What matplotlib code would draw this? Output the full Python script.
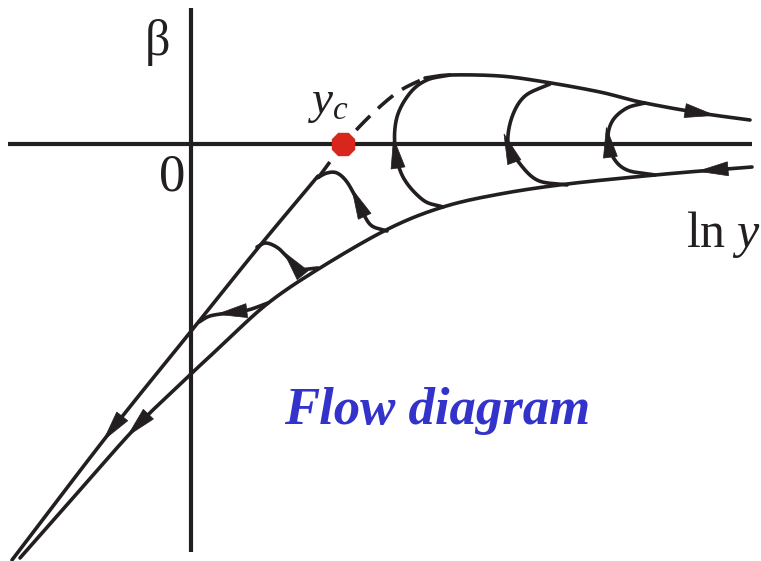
import numpy as np
import matplotlib.pyplot as plt
from matplotlib.patches import Polygon

plt.rcParams['mathtext.fontset'] = 'custom'
plt.rcParams['mathtext.rm'] = 'Liberation Serif'
plt.rcParams['mathtext.it'] = 'Liberation Serif:italic'

INK = '#231f20'

# flow lines, points ordered along the direction of flow (canvas pixels, y down)
upper_line = [(318, 176), (258, 248), (192, 330), (110, 432), (12, 560)]
dashed_part = [(318, 178), (343, 145), (370, 116), (398, 92), (425, 78)]
top_curve = [(425, 78), (450, 75), (500, 76), (545, 82), (600, 92),
             (640, 102), (700, 113), (750, 120)]
lower_curve = [(752, 167), (713, 170), (655, 175), (567, 184), (500, 194),
               (443, 207), (388, 229), (320, 268), (267, 304), (220, 347),
               (192, 373), (138, 425), (80, 490), (20, 558)]
loop_a = [(268, 303), (248, 310), (228, 313), (210, 316), (199, 322)]
loop_b = [(318, 268), (300, 269), (290, 260), (278, 248), (266, 243), (257, 247)]
loop_c = [(387, 231), (372, 226), (364, 215), (357, 200), (347, 182),
          (337, 173), (327, 173), (317, 178)]
loop_d = [(443, 207), (423, 200), (403, 177), (395, 147), (397, 117),
          (410, 93), (427, 80), (450, 75)]
loop_e = [(567, 185), (537, 180), (517, 160), (508, 143), (512, 117),
          (525, 96), (550, 84)]
loop_f = [(655, 175), (627, 170), (613, 157), (608, 137), (613, 120),
          (627, 108), (645, 103)]

# where the arrowheads sit on each line
arrows = [(top_curve, (700, 113)), (lower_curve, (713, 170)),
          (lower_curve, (138, 424)), (upper_line, (110, 428)),
          (loop_a, (232, 312)), (loop_b, (294, 263)), (loop_c, (358, 203)),
          (loop_d, (397, 153)), (loop_e, (510, 148)), (loop_f, (610, 142))]

critical_point = (343, 144)


def smooth(pts, n=30):
    # Catmull-Rom through the given points
    p = np.asarray(pts, float)
    p = np.vstack([2 * p[0] - p[1], p, 2 * p[-1] - p[-2]])
    out = []
    t = np.linspace(0, 1, n, endpoint=False)[:, None]
    for i in range(1, len(p) - 2):
        p0, p1, p2, p3 = p[i - 1], p[i], p[i + 1], p[i + 2]
        out.append(0.5 * (2 * p1 + (-p0 + p2) * t
                          + (2 * p0 - 5 * p1 + 4 * p2 - p3) * t ** 2
                          + (-p0 + 3 * p1 - 3 * p2 + p3) * t ** 3))
    out.append(p[-2][None])
    return np.vstack(out)


def arrowhead(ax, pts, at, length=30, width=14):
    c = smooth(pts)
    i = np.argmin(((c - np.asarray(at)) ** 2).sum(axis=1))
    i = min(max(i, 1), len(c) - 2)
    d = c[i + 1] - c[i - 1]
    d = d / np.hypot(*d)
    nrm = np.array([-d[1], d[0]])
    p = c[i]
    tri = [p + d * length / 2, p - d * length / 2 + nrm * width / 2,
           p - d * length / 2 - nrm * width / 2]
    ax.add_patch(Polygon(tri, closed=True, fc=INK, ec=INK, lw=0.5, zorder=5))


fig = plt.figure(figsize=(7.61, 5.61), dpi=100)
ax = fig.add_axes([0, 0, 1, 1])
ax.set_xlim(0, 761)
ax.set_ylim(561, 0)
ax.axis('off')

# axes
ax.plot([8, 752], [144, 144], color=INK, lw=3.0, solid_capstyle='butt')
ax.plot([191, 191], [8, 552], color=INK, lw=3.0, solid_capstyle='butt')

for pts in [upper_line, top_curve, lower_curve, loop_a, loop_b, loop_c,
            loop_d, loop_e, loop_f]:
    c = smooth(pts)
    ax.plot(c[:, 0], c[:, 1], color=INK, lw=2.6, solid_capstyle='round')

c = smooth(dashed_part)
ax.plot(c[:, 0], c[:, 1], color=INK, lw=2.6, dashes=(5.5, 3))

for pts, at in arrows:
    arrowhead(ax, pts, at)

ax.plot(*critical_point, marker='8', ms=17, color='#d9261c', mec='#d9261c',
        zorder=6)

serif = 'Liberation Serif'
ax.text(158, 42, 'β', fontsize=36, family=serif, ha='center', va='center',
        color=INK)
ax.text(172, 190, '0', fontsize=38, family=serif, ha='center',
        va='baseline', color=INK)
ax.text(308, 113, r'$y_c$', fontsize=34, ha='left', va='baseline', color=INK)
ax.text(686, 247, r'$\mathrm{ln}\ y$', fontsize=36, ha='left',
        va='baseline', color=INK)
ax.text(437, 424, 'Flow diagram', fontsize=38, family=serif,
        fontweight='bold', fontstyle='italic', ha='center', va='baseline',
        color='#3333cc')

fig.savefig('out.png', dpi=100)
